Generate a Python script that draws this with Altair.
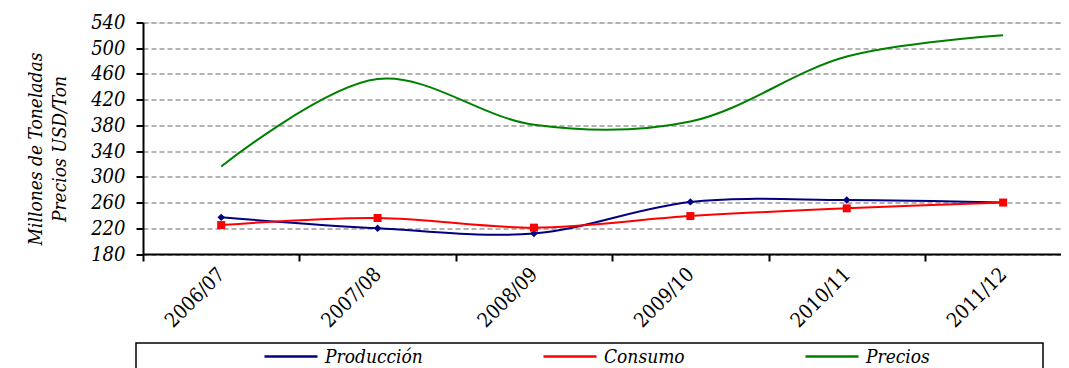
import json
import altair as alt
import pandas as pd

years = ["2006/07", "2007/08", "2008/09", "2009/10", "2010/11", "2011/12"]
produccion = [237, 220, 212, 261, 264, 260]
consumo = [225, 236, 221, 239, 251, 260]
precios = [316, 452, 381, 386, 487, 520]
series = ["Producción", "Consumo", "Precios"]
colors = ["#000080", "#ff0000", "#008000"]
y_ticks = list(range(180, 541, 40))

rows = []
for name, vals in zip(series, [produccion, consumo, precios]):
    for i, (yr, v) in enumerate(zip(years, vals)):
        rows.append({"idx": i, "year": yr, "serie": name, "valor": v})
df = pd.DataFrame(rows)

x_values = [i * 0.5 - 0.5 for i in range(12)]  # -0.5 .. 5.0
label_expr = (
    "datum.value % 1 === 0 ? " + json.dumps(years) + "[datum.value] : ''"
)

FONT = "DejaVu Serif Condensed, DejaVu Serif, serif"

x_enc = alt.X(
    "idx:Q",
    scale=alt.Scale(domain=[-0.5, 5.37], nice=False, zero=False),
    axis=alt.Axis(
        values=x_values,
        tickCount=len(x_values),
        labelExpr=label_expr,
        title=None,
        grid=False,
        domainColor="black",
        domainWidth=2,
        tickColor="black",
        tickWidth=2,
        tickSize=7,
        tickOpacity={"condition": {"test": "datum.value % 1 !== 0", "value": 1}, "value": 0},
        labelAngle=-45,
        labelAlign="right",
        labelBaseline="middle",
        labelPadding=10,
        labelFont=FONT,
        labelFontSize=20,
        labelColor="black",
        labelOverlap=False,
        labelBound=False,
        labelFlush=False,
    ),
)

y_enc = alt.Y(
    "valor:Q",
    scale=alt.Scale(domain=[180, 540], nice=False, zero=False),
    axis=alt.Axis(
        values=y_ticks,
        tickCount=len(y_ticks),
        format="d",
        title=["Millones de Toneladas", "Precios USD/Ton"],
        titleFont=FONT,
        titleFontStyle="italic",
        titleFontWeight="normal",
        titleFontSize=19,
        titleLineHeight=24,
        titleAngle=270,
        titleBaseline="middle",
        titleAlign="center",
        titleX=-108,
        titleY=126,
        titleColor="black",
        grid=True,
        gridColor="#9a9a9a",
        gridDash=[5, 3],
        gridWidth=1.5,
        domainColor="black",
        domainWidth=2,
        tickColor="black",
        tickWidth=2,
        tickSize=7,
        labelPadding=11,
        labelFont=FONT,
        labelFontStyle="italic",
        labelFontSize=20,
        labelColor="black",
        labelOverlap=False,
        labelBound=False,
        labelFlush=False,
    ),
)

color_enc = alt.Color(
    "serie:N",
    scale=alt.Scale(domain=series, range=colors),
    sort=series,
    legend=alt.Legend(
        title=None,
        orient="none",
        direction="horizontal",
        legendX=120,
        legendY=306,
        symbolType="stroke",
        symbolSize=2809,
        symbolStrokeWidth=2.5,
        labelFont=FONT,
        labelFontStyle="italic",
        labelFontSize=19,
        labelColor="black",
        labelOffset=6,
        labelLimit=300,
        columnPadding=115,
        padding=0,
    ),
)

lines = alt.Chart(df).mark_line(interpolate="catmull-rom", strokeWidth=2).encode(
    x=x_enc, y=y_enc, color=color_enc, detail="serie:N"
)

points = alt.Chart(df).transform_filter(
    alt.FieldOneOfPredicate(field="serie", oneOf=["Producción", "Consumo"])
).mark_point(filled=True, opacity=1).encode(
    x=alt.X("idx:Q"),
    y=alt.Y("valor:Q"),
    color=alt.Color("serie:N", scale=alt.Scale(domain=series, range=colors), legend=None),
    shape=alt.Shape("serie:N", scale=alt.Scale(domain=["Producción", "Consumo"], range=["diamond", "square"]), legend=None),
    size=alt.Size("serie:N", scale=alt.Scale(domain=["Producción", "Consumo"], range=[55, 64]), legend=None),
)

box = alt.Chart(pd.DataFrame({"k": [0]})).mark_rect(
    fill="transparent", stroke="black", strokeWidth=1.5
).encode(
    x=alt.value(-7), x2=alt.value(900), y=alt.value(320.5), y2=alt.value(420)
)

chart = alt.layer(lines, points, box).properties(
    width=918,
    height=231.5,
    padding={"left": 135, "top": 14.5, "right": 0, "bottom": 114},
    autosize=alt.AutoSizeParams(type="none"),
).configure_view(stroke=None).configure(background="white")

chart.save("out.html", embed_options={"renderer": "svg", "actions": False})
